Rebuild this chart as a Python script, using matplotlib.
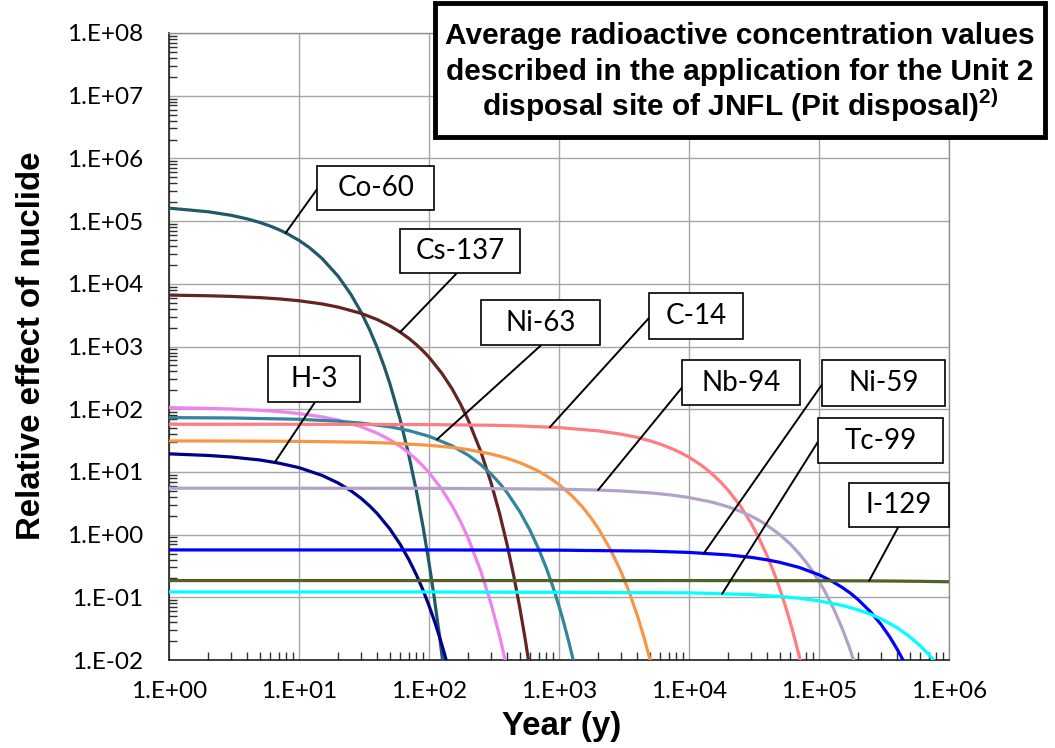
import numpy as np
import matplotlib
matplotlib.use("Agg")
import matplotlib.pyplot as plt
from matplotlib.patches import Rectangle
from matplotlib.ticker import FixedLocator, LogLocator, NullFormatter

# values: year -> relative effect of nuclide
co60_years = [1, 2, 3, 4, 5, 6, 7, 8, 10, 12, 15, 20, 25, 30, 35, 40, 45, 50, 60, 70,
              80, 90, 100, 110, 120, 130]
co60_vals = [1.61e5, 1.41e5, 1.238e5, 1.084e5, 9.51e4, 8.34e4, 7.31e4, 6.41e4, 4.93e4,
             3.79e4, 2.55e4, 1.32e4, 6.85e3, 3.55e3, 1.84e3, 953, 494, 256, 68.6, 18.4,
             4.94, 1.33, 0.356, 0.0956, 0.0257, 0.00689]

cs137_years = [1, 2, 3, 5, 7, 10, 15, 20, 30, 40, 50, 60, 70, 80, 90, 100, 125, 150,
               175, 200, 250, 300, 350, 400, 450, 500, 550, 600]
cs137_vals = [6600, 6450, 6300, 6020, 5750, 5370, 4780, 4250, 3385, 2690, 2136, 1695,
              1348, 1070, 850, 675, 379, 214, 120, 67.5, 21.3, 6.75, 2.13, 0.674, 0.213,
              0.0674, 0.0213, 0.0067]

h3_years = [1, 2, 3, 5, 7, 10, 15, 20, 25, 30, 35, 40, 50, 60, 70, 80, 90, 100, 110,
            120, 130, 140]
h3_vals = [19.4, 18.3, 17.3, 15.5, 13.8, 11.7, 8.82, 6.66, 5.03, 3.80, 2.86, 2.16, 1.23,
           0.702, 0.400, 0.228, 0.130, 0.0739, 0.0421, 0.0240, 0.0137, 0.00779]

sr90_years = [1, 2, 3, 5, 7, 10, 15, 20, 30, 40, 50, 60, 70, 80, 90, 100, 125, 150, 175,
              200, 250, 300, 350, 400]
sr90_vals = [106, 103, 101, 96.2, 91.7, 85.3, 75.6, 67.1, 52.7, 41.4, 32.6, 25.6, 20.1,
             15.8, 12.4, 9.78, 5.36, 2.93, 1.61, 0.881, 0.264, 0.0793, 0.0238, 0.00714]

ni63_years = [1, 3, 10, 20, 30, 50, 70, 100, 150, 200, 250, 300, 350, 400, 500, 600,
              700, 800, 900, 1000, 1100, 1200, 1300]
ni63_vals = [73.5, 72.5, 69.1, 64.4, 60.1, 52.4, 45.6, 37.0, 26.2, 18.5, 13.1, 9.26,
             6.55, 4.64, 2.32, 1.16, 0.580, 0.291, 0.145, 0.0727, 0.0364, 0.0182, 0.0091]

am241_years = [1, 3, 10, 30, 50, 100, 150, 200, 300, 400, 500, 600, 700, 800, 900, 1000,
               1250, 1500, 1750, 2000, 2500, 3000, 3500, 4000, 4500, 5000, 5200]
am241_vals = [31.2, 31.1, 30.7, 29.8, 28.8, 26.6, 24.6, 22.7, 19.3, 16.5, 14.0, 11.9,
              10.2, 8.67, 7.39, 6.30, 4.22, 2.83, 1.89, 1.27, 0.569, 0.256, 0.115,
              0.0516, 0.0232, 0.0104, 0.00754]

c14_years = [1, 10, 100, 300, 500, 1000, 2000, 3000, 4000, 5000, 6000, 7500, 8500,
             10000, 12500, 15000, 17500, 20000, 25000, 30000, 35000, 40000, 45000,
             50000, 55000, 60000, 65000, 70000, 75000]
c14_vals = [57.5, 57.5, 56.8, 55.5, 54.1, 50.9, 45.2, 40.0, 35.5, 31.4, 27.8, 23.2, 20.6,
            17.2, 12.7, 9.37, 6.92, 5.11, 2.80, 1.53, 0.834, 0.455, 0.249, 0.136,
            0.0742, 0.0405, 0.0221, 0.0121, 0.0066]

nb94_years = [1, 100, 1000, 2000, 3000, 5000, 7000, 10000, 15000, 20000, 25000, 30000,
              35000, 40000, 50000, 60000, 70000, 80000, 90000, 110000, 130000, 150000,
              170000, 190000]
nb94_vals = [5.5, 5.48, 5.32, 5.14, 4.97, 4.64, 4.33, 3.91, 3.30, 2.78, 2.34, 1.98, 1.67,
             1.40, 0.998, 0.710, 0.504, 0.358, 0.255, 0.129, 0.0650, 0.0328, 0.0166,
             0.00838]

ni59_years = [1, 100, 1000, 5000, 10000, 20000, 30000, 40000, 50000, 70000, 100000,
              125000, 150000, 175000, 200000, 250000, 300000, 350000, 400000, 450000]
ni59_vals = [0.57, 0.5695, 0.565, 0.545, 0.520, 0.475, 0.434, 0.396, 0.361, 0.301,
             0.229, 0.182, 0.145, 0.116, 0.0920, 0.0583, 0.0370, 0.0234, 0.0148, 0.00942]

tc99_years = [1, 100, 10000, 30000, 50000, 70000, 100000, 150000, 200000, 250000,
              300000, 400000, 500000, 600000, 700000, 800000]
tc99_vals = [0.122, 0.122, 0.118, 0.1105, 0.103, 0.0969, 0.0878, 0.0745, 0.0632, 0.0536,
             0.0455, 0.0327, 0.0235, 0.0169, 0.0122, 0.00878]

i129_years = [1, 10000, 100000, 300000, 600000, 1000000]
i129_vals = [0.185, 0.185, 0.184, 0.1826, 0.180, 0.177]

x_ticks = [1e0, 1e1, 1e2, 1e3, 1e4, 1e5, 1e6]
x_labels = ["1.E+00", "1.E+01", "1.E+02", "1.E+03", "1.E+04", "1.E+05", "1.E+06"]
y_ticks = [1e-2, 1e-1, 1e0, 1e1, 1e2, 1e3, 1e4, 1e5, 1e6, 1e7, 1e8]
y_labels = ["1.E-02", "1.E-01", "1.E+00", "1.E+01", "1.E+02", "1.E+03", "1.E+04",
            "1.E+05", "1.E+06", "1.E+07", "1.E+08"]

series = {
    "Co-60": (co60_years, co60_vals, "#215968"),
    "Cs-137": (cs137_years, cs137_vals, "#632523"),
    "H-3": (h3_years, h3_vals, "#00008B"),
    "Sr-90": (sr90_years, sr90_vals, "#EE82EE"),
    "Ni-63": (ni63_years, ni63_vals, "#31859C"),
    "Am-241": (am241_years, am241_vals, "#F79646"),
    "C-14": (c14_years, c14_vals, "#FF7C80"),
    "Nb-94": (nb94_years, nb94_vals, "#B3A2C7"),
    "Ni-59": (ni59_years, ni59_vals, "#0000FF"),
    "I-129": (i129_years, i129_vals, "#4F6228"),
    "Tc-99": (tc99_years, tc99_vals, "#00FFFF"),
}

# label boxes: (x0, y0, x1, y1) in axes fraction, leader start (axes fraction), leader end year
callouts = [
    ("Co-60", (0.190, 0.718, 0.340, 0.788), (0.191, 0.753), 7.9),
    ("Cs-137", (0.296, 0.617, 0.450, 0.687), (0.369, 0.617), 60),
    ("Ni-63", (0.400, 0.502, 0.553, 0.574), (0.477, 0.502), 115),
    ("C-14", (0.615, 0.512, 0.736, 0.585), (0.615, 0.545), 850),
    ("Nb-94", (0.658, 0.407, 0.809, 0.478), (0.658, 0.435), 2000),
    ("Ni-59", (0.837, 0.405, 0.995, 0.478), (0.837, 0.439), 13000),
    ("Tc-99", (0.832, 0.314, 0.992, 0.386), (0.832, 0.348), 18000),
    ("I-129", (0.872, 0.212, 1.000, 0.282), (0.935, 0.212), 243000),
    ("H-3", (0.127, 0.411, 0.245, 0.485), (0.187, 0.411), 6.5),
]

title_lines = ["Average radioactive concentration values",
               "described in the application for the Unit 2",
               r"disposal site of JNFL (Pit disposal)$^{\mathbf{2)}}$"]

plt.rcParams["mathtext.fontset"] = "custom"
plt.rcParams["mathtext.bf"] = "Liberation Sans:bold"
plt.rcParams["mathtext.rm"] = "Liberation Sans"

fig = plt.figure(figsize=(10.55, 7.48), dpi=100)
ax = fig.add_axes([0.1602, 0.1176, 0.7393, 0.8383])


def on_curve(name, x):
    yrs, vals, _ = series[name]
    return 10 ** np.interp(np.log10(x), np.log10(yrs), np.log10(vals))


for name, (yrs, vals, col) in series.items():
    ax.plot(yrs, vals, color=col, lw=2.3, solid_capstyle="butt", zorder=3)

ax.set_xscale("log")
ax.set_yscale("log")
ax.set_xlim(1, 1e6)
ax.set_ylim(1e-2, 1e8)

ax.xaxis.set_major_locator(FixedLocator(x_ticks))
ax.set_xticklabels(x_labels)
ax.yaxis.set_major_locator(FixedLocator(y_ticks))
ax.set_yticklabels(y_labels)
ax.xaxis.set_minor_locator(LogLocator(base=10, subs=np.arange(2, 10), numticks=20))
ax.yaxis.set_minor_locator(LogLocator(base=10, subs=np.arange(2, 10), numticks=20))
ax.xaxis.set_minor_formatter(NullFormatter())
ax.yaxis.set_minor_formatter(NullFormatter())
ax.tick_params(which="major", length=0)
ax.tick_params(axis="y", which="major", pad=18.5)
ax.tick_params(axis="x", which="major", pad=15)
ax.tick_params(which="minor", direction="in", length=5.5, width=1, color="#303030")
for lab in ax.get_xticklabels() + ax.get_yticklabels():
    lab.set_fontfamily("Lato")
    lab.set_fontsize(17.5)

ax.grid(True, which="major", color="#A6A6A6", lw=1)
ax.set_axisbelow(True)
for side in ("left", "bottom"):
    ax.spines[side].set_color("#202020")
    ax.spines[side].set_linewidth(1.2)
for side in ("top", "right"):
    ax.spines[side].set_color("#909090")
    ax.spines[side].set_linewidth(1)

for name, (x0, y0, x1, y1), start, x_end in callouts:
    ax.add_patch(Rectangle((x0, y0), x1 - x0, y1 - y0, transform=ax.transAxes,
                           facecolor="white", edgecolor="black", lw=1.2, zorder=5,
                           clip_on=False))
    ax.text((x0 + x1) / 2, (y0 + y1) / 2, name, transform=ax.transAxes, ha="center",
            va="center", fontsize=20, family="Lato", zorder=6)
    ax.annotate("", xy=(x_end, on_curve(name, x_end)), xycoords="data",
                xytext=start, textcoords="axes fraction",
                arrowprops=dict(arrowstyle="-", lw=1.4, color="black",
                                shrinkA=0, shrinkB=0), zorder=4)

fig.text(0.0294, 1 - 346 / 748, "Relative effect of nuclide", rotation=90, ha="center",
         va="center", fontsize=23.8, fontweight="bold", family="Liberation Sans")
fig.text(562 / 1055, 1 - 727 / 748, "Year (y)", ha="center", va="center",
         fontsize=23.8, fontweight="bold", family="Liberation Sans")

# title box sits over the top of the plot area
fig.add_artist(Rectangle((435 / 1055, 1 - 137 / 748), 610 / 1055, 134 / 748,
                         transform=fig.transFigure, facecolor="white",
                         edgecolor="black", lw=3.5, zorder=10))
for line, base in zip(title_lines, (44, 80, 116)):
    fig.text(740 / 1055, 1 - base / 748, line, ha="center", va="baseline",
             fontsize=21.5, fontweight="bold", family="Liberation Sans", zorder=11)

fig.savefig("out.png", dpi=100)
